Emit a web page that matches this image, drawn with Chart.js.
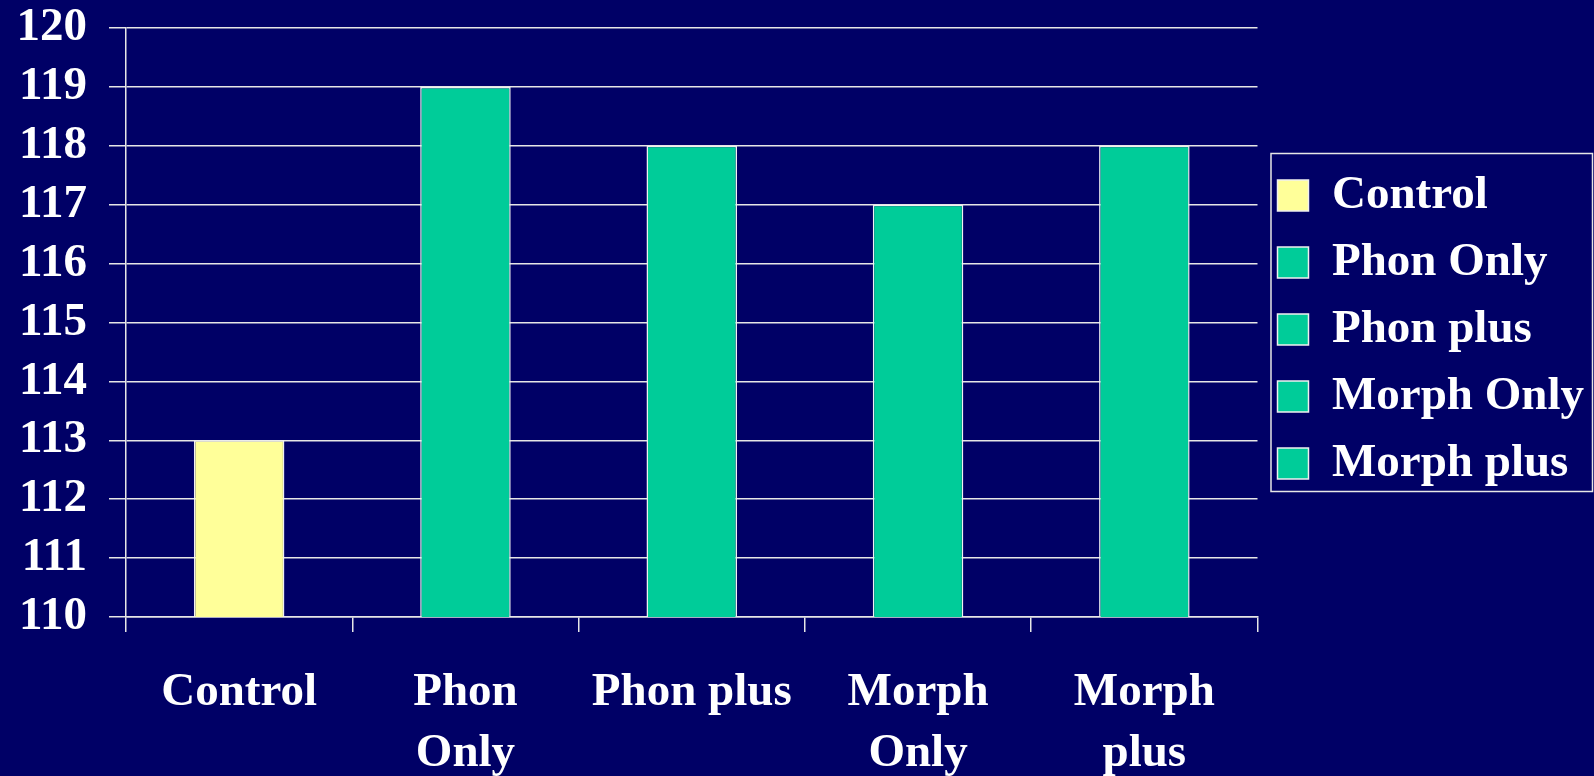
<!DOCTYPE html>
<html>
<head>
<meta charset="utf-8">
<title>Scores by group</title>
<script src="https://cdn.jsdelivr.net/npm/chart.js@4.4.1/dist/chart.umd.min.js"></script>
<style>
  html, body { margin: 0; padding: 0; background: #000066; }
  #wrap { width: 1594px; height: 776px; }
</style>
</head>
<body>
<div id="wrap"><canvas id="scoreChart" width="1594" height="776"></canvas></div>
<script>
// Groups, their axis labels (split over lines) and the mean scores
const groups = ["Control", "Phon Only", "Phon plus", "Morph Only", "Morph plus"];
const axisLabels = ["Control", ["Phon", "Only"], "Phon plus", ["Morph", "Only"], ["Morph", "plus"]];
const scores = [113, 119, 118, 117, 118];
const yTicks = [110, 111, 112, 113, 114, 115, 116, 117, 118, 119, 120];

const barColors = ["#FFFF99", "#00CC99", "#00CC99", "#00CC99", "#00CC99"];
const serif = "'Liberation Serif', 'Times New Roman', serif";

// white frame round the legend
const legendFrame = {
  id: "legendFrame",
  afterDraw(chart) {
    const boxes = chart.legend.legendHitBoxes;
    if (!boxes || !boxes.length) return;
    const first = boxes[0];
    const last = boxes[boxes.length - 1];
    const ctx = chart.ctx;
    const left = first.left - 7;
    const top = first.top - 19;
    const bottom = last.top + last.height + 4;
    ctx.save();
    ctx.strokeStyle = "#e6e6e6";
    ctx.lineWidth = 1.5;
    ctx.strokeRect(left + 0.5, top + 0.5, chart.width - 2 - left, bottom - top);
    ctx.restore();
  }
};

const ctx = document.getElementById("scoreChart").getContext("2d");
new Chart(ctx, {
  type: "bar",
  data: {
    labels: axisLabels,
    datasets: [{
      label: "Score",
      data: scores,
      backgroundColor: barColors,
      borderColor: "#f0f0f0",
      borderWidth: 1.5,
      categoryPercentage: 1,
      barPercentage: 0.4
    }]
  },
  options: {
    responsive: false,
    animation: false,
    layout: { padding: { left: 17, right: 0, top: 0, bottom: 0 } },
    scales: {
      x: {
        grid: {
          offset: true,
          drawOnChartArea: false,
          drawTicks: true,
          tickLength: 15,
          color: "#e6e6e6",
          lineWidth: 1.5
        },
        border: { color: "#e6e6e6", width: 1.5 },
        ticks: {
          color: "#ffffff",
          padding: 30,
          maxRotation: 0,
          autoSkip: false,
          font: { family: serif, size: 47, weight: "bold", lineHeight: 1.3 }
        },
        afterFit(scale) { scale.height = 159; }
      },
      y: {
        min: 110,
        max: 120,
        afterBuildTicks(scale) { scale.ticks = yTicks.map(v => ({ value: v })); },
        grid: {
          color: "#e6e6e6",
          lineWidth: 1.5,
          tickLength: 17
        },
        border: { color: "#e6e6e6", width: 1.5 },
        ticks: {
          color: "#ffffff",
          padding: 22,
          autoSkip: false,
          font: { family: serif, size: 47, weight: "bold", lineHeight: 1.2 }
        },
        afterFit(scale) {
          scale.width = 109;
          // keep the top label's half height as the only space above the plot
          scale.paddingTop = 28;
          scale.paddingBottom = 0;
        }
      }
    },
    plugins: {
      tooltip: { enabled: false },
      legend: {
        position: "right",
        fullSize: false,
        // empty title: nudges the centred entries a little lower
        title: { display: true, text: "", padding: 0, font: { size: 10, lineHeight: 1.4 } },
        labels: {
          color: "#ffffff",
          boxWidth: 31,
          boxHeight: 31,
          padding: 20,
          font: { family: serif, size: 47, weight: "bold" },
          generateLabels() {
            return groups.map((name, i) => ({
              text: name,
              fillStyle: barColors[i],
              strokeStyle: "#f0f0f0",
              lineWidth: 1.5,
              fontColor: "#ffffff",
              hidden: false,
              index: i
            }));
          }
        }
      }
    }
  },
  plugins: [legendFrame]
});
</script>
</body>
</html>
